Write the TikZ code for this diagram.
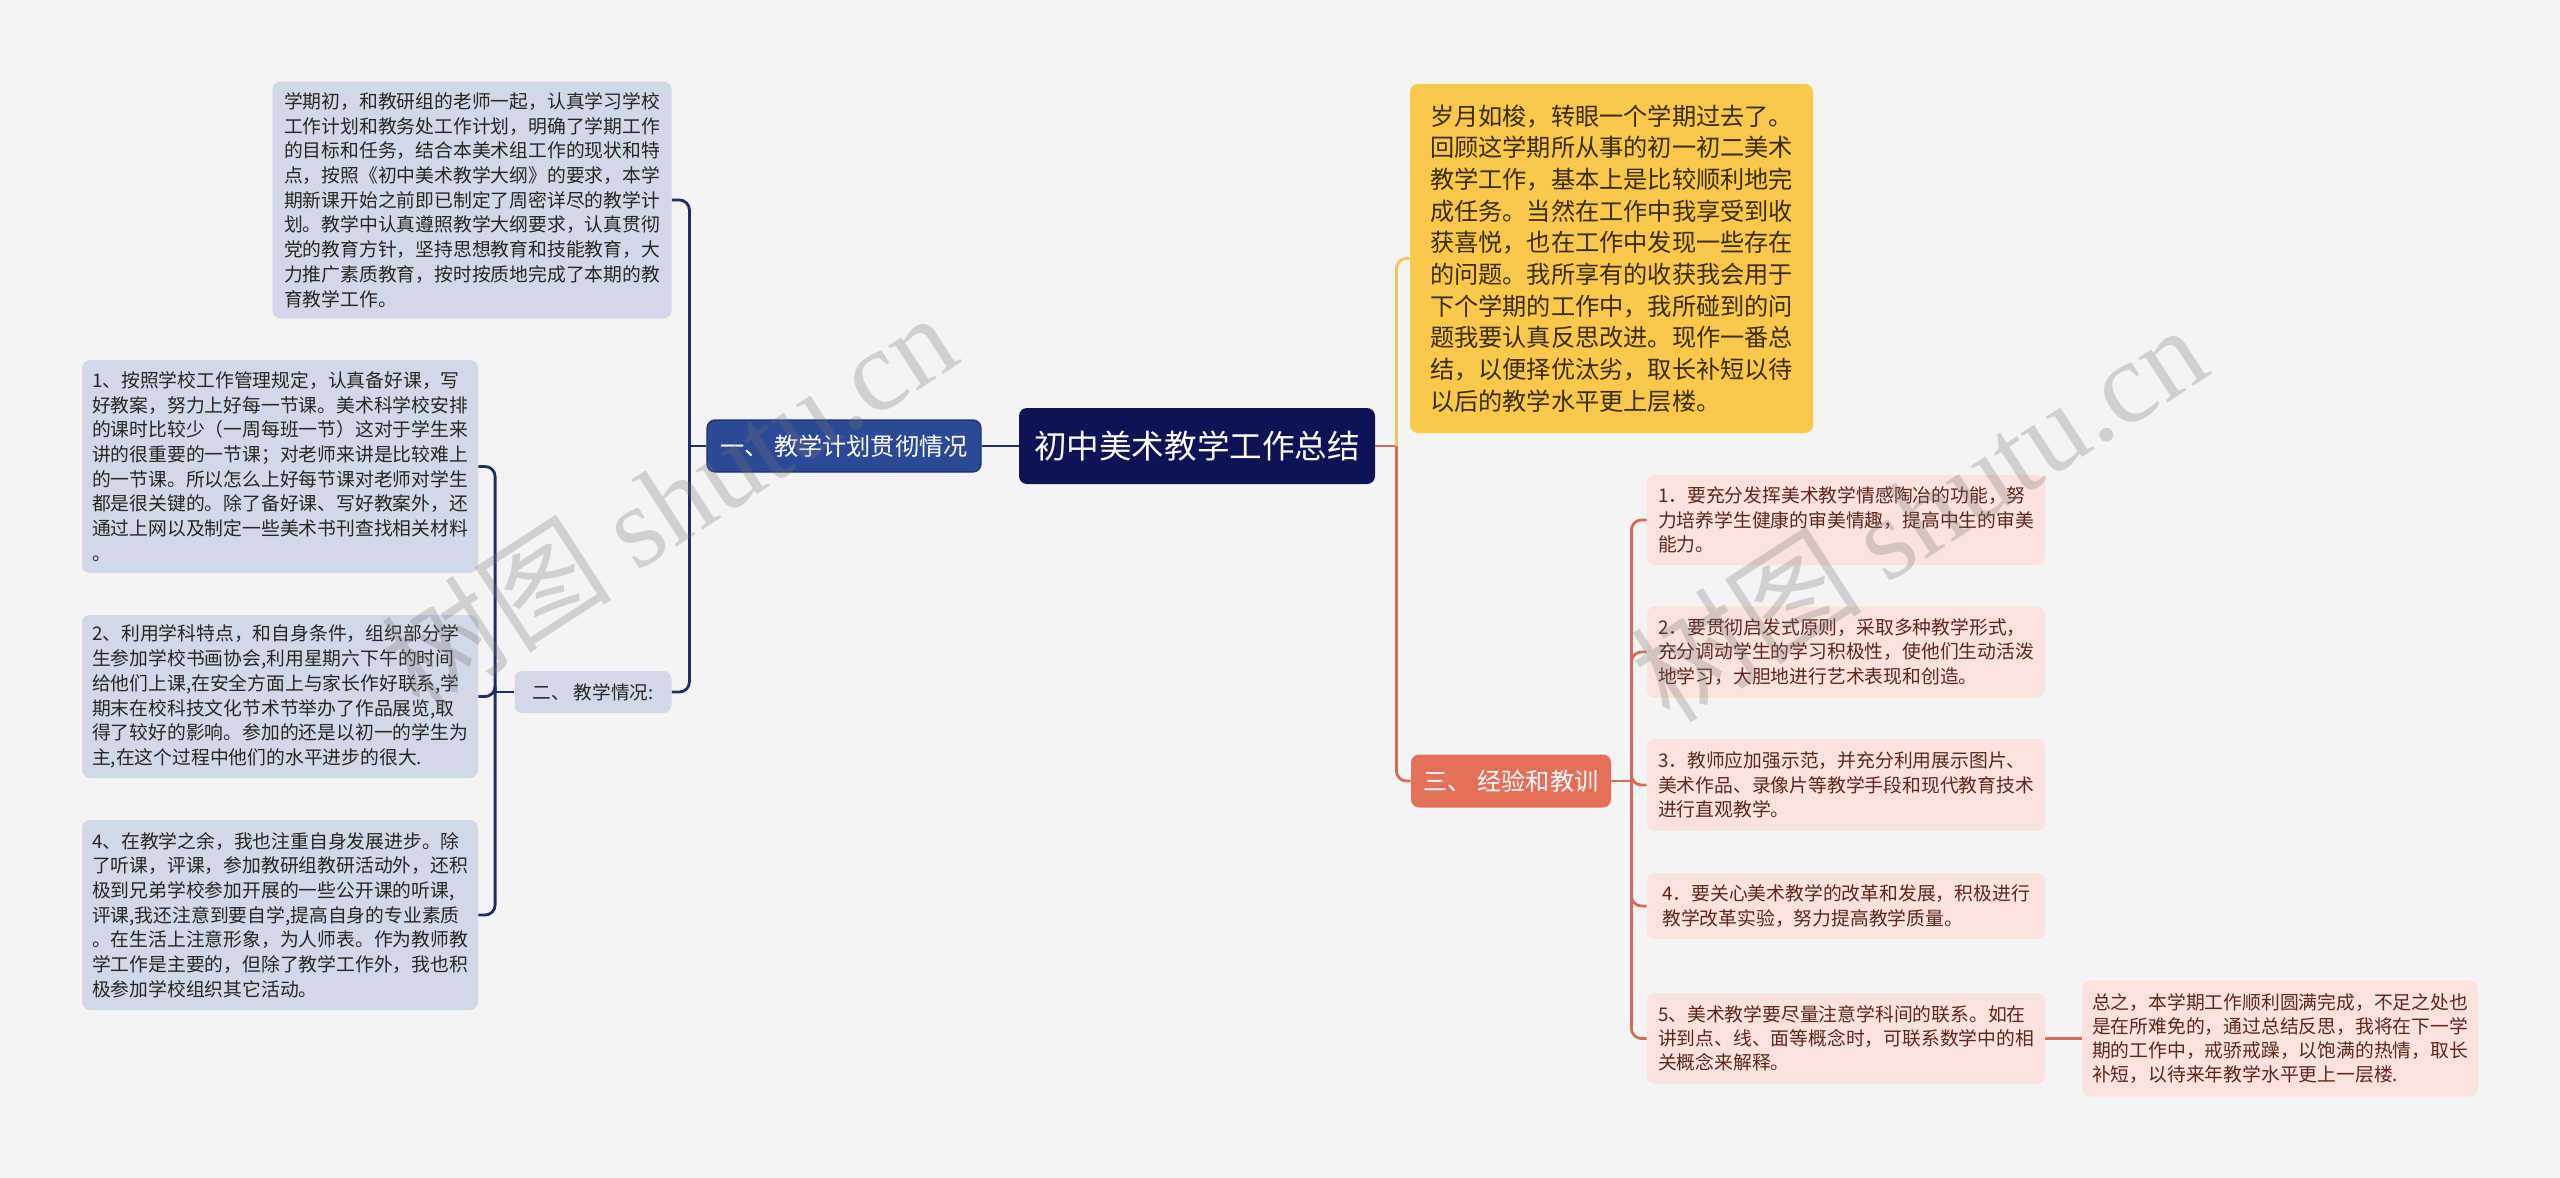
\documentclass[tikz,border=0pt]{standalone}
\usepackage{fontspec}
\setmainfont{Noto Sans CJK SC}
\newfontfamily\wmfont{Liberation Serif}
\usetikzlibrary{calc}
\definecolor{bgc}{HTML}{F4F4F4}
\definecolor{rootc}{HTML}{0E1355}
\definecolor{bonec}{HTML}{2B4A96}
\definecolor{navyline}{HTML}{1F2E6B}
\definecolor{lavleaf}{HTML}{D3D8E8}
\definecolor{yelc}{HTML}{FAC84A}
\definecolor{yelline}{HTML}{F3C55E}
\definecolor{coralc}{HTML}{E4705A}
\definecolor{coralline}{HTML}{D56A55}
\definecolor{pinkleaf}{HTML}{FBE2DC}
\definecolor{pinktext}{HTML}{5A281F}
\definecolor{darktext}{HTML}{262626}
\definecolor{yeltext}{HTML}{3A2C05}
\tikzset{
  sz/.style 2 args={minimum width=#1*0.5pt, minimum height=#2*0.5pt},
  box/.style={rounded corners=4pt, inner sep=0pt, align=left},
  leafL/.style={box, fill=lavleaf, text=darktext, font=\fontsize{9.4}{12.35}\selectfont},
  leafR/.style={box, fill=pinkleaf, text=pinktext, font=\fontsize{9.4}{12.1}\selectfont},
  yelbox/.style={box, fill=yelc, text=yeltext, font=\fontsize{12.1}{15.85}\selectfont},
  rootbox/.style={box, fill=rootc, text=white, font=\fontsize{16.3}{18}\selectfont},
  bonebox/.style={box, fill=bonec, draw=navyline, line width=0.6pt, text=white, font=\fontsize{12.1}{14}\selectfont},
  twobox/.style={box, fill=lavleaf, text=darktext, font=\fontsize{9.3}{11}\selectfont},
  threebox/.style={box, fill=coralc, text=white, font=\fontsize{12.1}{14}\selectfont},
  navyconn/.style={draw=navyline, line width=1.4pt, rounded corners=5pt},
  coralconn/.style={draw=coralline, line width=1.4pt, rounded corners=5pt},
  yelconn/.style={draw=yelline, line width=1.4pt, rounded corners=5pt},
  wmark/.style={rotate=33, text=black!55, opacity=0.28, font=\fontsize{58}{62}\selectfont}
}
\begin{document}
\begin{tikzpicture}[x=0.5pt, y=-0.5pt]
\fill[bgc] (0,0) rectangle (2560,1178);
\useasboundingbox (0,0) rectangle (2560,1178);

% root and first level
\node[rootbox, sz={356}{76}] (root) at (1197,446) {初中美术教学工作总结};
\node[bonebox, sz={274}{52}] (b1) at (844,446) {一、\ 教学计划贯彻情况};
\node[twobox, sz={157}{42}] (b2) at (593,692) {二、\ 教学情况:};
\node[threebox, sz={200}{53}] (b3) at (1511,781) {三、\ 经验和教训};

% left leaves
\node[leafL, sz={399}{237}] (la) at (472,200) {学期初，和教研组的老师一起，认真学习学校\\工作计划和教务处工作计划，明确了学期工作\\的目标和任务，结合本美术组工作的现状和特\\点，按照《初中美术教学大纲》的要求，本学\\期新课开始之前即已制定了周密详尽的教学计\\划。教学中认真遵照教学大纲要求，认真贯彻\\党的教育方针，坚持思想教育和技能教育，大\\力推广素质教育，按时按质地完成了本期的教\\育教学工作。};
\node[leafL, sz={396}{213}] (l1) at (280,466.5) {1、按照学校工作管理规定，认真备好课，写\\好教案，努力上好每一节课。美术科学校安排\\的课时比较少（一周每班一节）这对于学生来\\讲的很重要的一节课；对老师来讲是比较难上\\的一节课。所以怎么上好每节课对老师对学生\\都是很关键的。除了备好课、写好教案外，还\\通过上网以及制定一些美术书刊查找相关材料\\。};
\node[leafL, sz={396}{163}] (l2) at (280,696.5) {2、利用学科特点，和自身条件，组织部分学\\生参加学校书画协会,利用星期六下午的时间\\给他们上课,在安全方面上与家长作好联系,学\\期末在校科技文化节术节举办了作品展览,取\\得了较好的影响。参加的还是以初一的学生为\\主,在这个过程中他们的水平进步的很大.};
\node[leafL, sz={396}{190}] (l4) at (280,915) {4、在教学之余，我也注重自身发展进步。除\\了听课，评课，参加教研组教研活动外，还积\\极到兄弟学校参加开展的一些公开课的听课,\\评课,我还注意到要自学,提高自身的专业素质\\。在生活上注意形象，为人师表。作为教师教\\学工作是主要的，但除了教学工作外，我也积\\极参加学校组织其它活动。};

% yellow
\node[yelbox, sz={403}{349}] (yel) at (1611.5,258.5) {岁月如梭，转眼一个学期过去了。\\回顾这学期所从事的初一初二美术\\教学工作，基本上是比较顺利地完\\成任务。当然在工作中我享受到收\\获喜悦，也在工作中发现一些存在\\的问题。我所享有的收获我会用于\\下个学期的工作中，我所碰到的问\\题我要认真反思改进。现作一番总\\结，以便择优汰劣，取长补短以待\\以后的教学水平更上层楼。};

% right leaves
\node[leafR, sz={398}{90}] (r1) at (1846,520) {1．要充分发挥美术教学情感陶冶的功能，努\\力培养学生健康的审美情趣，提高中生的审美\\能力。};
\node[leafR, sz={398}{91}] (r2) at (1846,652) {2．要贯彻启发式原则，采取多种教学形式，\\充分调动学生的学习积极性，使他们生动活泼\\地学习，大胆地进行艺术表现和创造。};
\node[leafR, sz={398}{92}] (r3) at (1846,785) {3．教师应加强示范，并充分利用展示图片、\\美术作品、录像片等教学手段和现代教育技术\\进行直观教学。};
\node[leafR, sz={398}{66}] (r4) at (1846,906) {4．要关心美术教学的改革和发展，积极进行\\教学改革实验，努力提高教学质量。};
\node[leafR, sz={398}{91}] (r5) at (1846,1038.5) {5、美术教学要尽量注意学科间的联系。如在\\讲到点、线、面等概念时，可联系数学中的相\\关概念来解释。};
\node[leafR, sz={396}{116}] (r6) at (2280,1038.5) {总之，本学期工作顺利圆满完成，不足之处也\\是在所难免的，通过总结反思，我将在下一学\\期的工作中，戒骄戒躁，以饱满的热情，取长\\补短，以待来年教学水平更上一层楼.};

% connectors left
\draw[navyconn] (root.west) -- (b1.east);
\draw[navyconn] (b1.west) -- ++(-17,0) coordinate (j1);
\draw[navyconn] (j1) |- (la.east);
\draw[navyconn] (j1) |- (b2.east);
\draw[navyconn] (b2.west) -- ++(-19,0) coordinate (j2);
\draw[navyconn] (j2) |- (l1.east);
\draw[navyconn] (j2) |- (l2.east);
\draw[navyconn] (j2) |- (l4.east);

% connectors right
\draw[coralconn] (root.east) -- ++(21,0) coordinate (j3);
\draw[yelconn] (j3) |- (yel.west);
\draw[coralconn] (j3) |- (b3.west);
\draw[coralconn] (b3.east) -- ++(20,0) coordinate (j4);
\foreach \r in {r1,r2,r3,r4,r5} {\draw[coralconn] (j4) |- (\r.west);}
\draw[coralconn] (r5.east) -- (r6.west);

% watermarks
\node[wmark] (wm1) at (668,500) {树图 {\wmfont shutu.cn}};
\node[wmark] (wm2) at (1918,512) {树图 {\wmfont shutu.cn}};
\end{tikzpicture}
\end{document}
